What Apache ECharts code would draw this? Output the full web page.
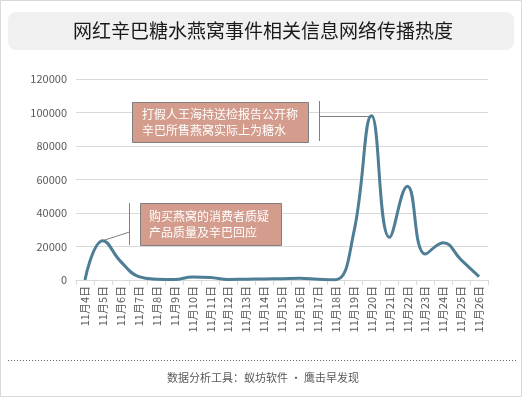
<!DOCTYPE html>
<html>
<head>
<meta charset="utf-8">
<script src="https://cdn.jsdelivr.net/npm/echarts@6/dist/echarts.min.js"></script>
<style>
html,body{margin:0;padding:0;background:#fff;}
#container{width:526px;height:398px;}
</style>
</head>
<body>
<div id="container"></div>
<script>
// 数据
var days = ['11月4日','11月5日','11月6日','11月7日','11月8日','11月9日','11月10日','11月11日','11月12日','11月13日','11月14日','11月15日','11月16日','11月17日','11月18日','11月19日','11月20日','11月21日','11月22日','11月23日','11月24日','11月25日','11月26日'];
var heat = [0, 23500, 11000, 2000, 500, 300, 1800, 1500, 300, 500, 600, 800, 1000, 500, 200, 28000, 98000, 25500, 56000, 15500, 22300, 12000, 2000];

var titleText = '网红辛巴糖水燕窝事件相关信息网络传播热度';
var footText = '数据分析工具：蚁坊软件 · 鹰击早发现';
var note1 = ['打假人王海持送检报告公开称', '辛巴所售燕窝实际上为糖水'];
var note2 = ['购买燕窝的消费者质疑', '产品质量及辛巴回应'];

var font = '"Noto Sans CJK SC", "Microsoft YaHei", sans-serif';
var myChart = echarts.init(document.getElementById('container'));

myChart.setOption({
    animation: false,
    backgroundColor: '#fff',
    grid: {left: 76, right: 38, top: 79, bottom: 118},
    xAxis: {
        type: 'category',
        data: days,
        boundaryGap: true,
        axisLine: {lineStyle: {color: '#d9d9d9'}},
        axisTick: {show: true, lineStyle: {color: '#d9d9d9'}, length: 5},
        axisLabel: {
            rotate: 90, interval: 0, color: '#595959', fontSize: 11,
            fontFamily: font, margin: 6
        }
    },
    yAxis: {
        type: 'value',
        min: 0, max: 120000, interval: 20000,
        axisLine: {show: false},
        axisTick: {show: false},
        splitLine: {lineStyle: {color: '#d9d9d9'}},
        axisLabel: {
            color: '#595959', fontSize: 11, fontFamily: font, margin: 9,
            formatter: function (v) { return String(v); }
        }
    },
    series: [{
        type: 'line',
        data: heat,
        smooth: 0.45,
        symbol: 'none',
        lineStyle: {color: '#4e7d96', width: 3}
    }]
});

// 注释框和引线
function drawNotes() {
    var p1 = myChart.convertToPixel({seriesIndex: 0}, [16, heat[16]]);
    var p2 = myChart.convertToPixel({seriesIndex: 0}, [1, heat[1]]);
    myChart.setOption({
        graphic: [
            // 外框
            {type: 'rect', shape: {x: 0.5, y: 0.5, width: 521, height: 396}, style: {fill: 'none', stroke: '#d9d9d9', lineWidth: 1}, silent: true},
            // 标题
            {type: 'rect', shape: {x: 8, y: 12, width: 506, height: 38, r: 8}, style: {fill: '#f0f0f0'}},
            {type: 'text', x: 263, y: 31, style: {text: titleText, fill: '#1a1a1a', font: '19px ' + font, align: 'center', verticalAlign: 'middle'}},
            // 注释1
            {type: 'rect', shape: {x: 132.5, y: 102.5, width: 176, height: 40}, style: {fill: '#d39c8d', stroke: '#7f7f7f', lineWidth: 1}},
            {type: 'text', x: 142, y: 122, style: {text: note1.join('\n'), fill: '#fff', font: '12px ' + font, lineHeight: 16, verticalAlign: 'middle'}},
            {type: 'line', shape: {x1: 319.5, y1: 101, x2: 319.5, y2: 141}, style: {stroke: '#7f7f7f', lineWidth: 1}},
            {type: 'line', shape: {x1: 319.5, y1: 116.5, x2: p1[0], y2: 116.5}, style: {stroke: '#7f7f7f', lineWidth: 1}},
            // 注释2
            {type: 'rect', shape: {x: 140.5, y: 203.5, width: 141, height: 42}, style: {fill: '#d39c8d', stroke: '#7f7f7f', lineWidth: 1}},
            {type: 'text', x: 149, y: 224, style: {text: note2.join('\n'), fill: '#fff', font: '12px ' + font, lineHeight: 16, verticalAlign: 'middle'}},
            {type: 'line', shape: {x1: 129.5, y1: 203, x2: 129.5, y2: 245}, style: {stroke: '#7f7f7f', lineWidth: 1}},
            {type: 'line', shape: {x1: 129.5, y1: 232, x2: p2[0], y2: p2[1]}, style: {stroke: '#7f7f7f', lineWidth: 1}},
            // 底部
            {type: 'line', shape: {x1: 8, y1: 360.5, x2: 516, y2: 360.5}, style: {stroke: '#666', lineWidth: 1, lineDash: [1, 2]}},
            {type: 'text', x: 263, y: 378, style: {text: footText, fill: '#595959', font: '11px ' + font, align: 'center', verticalAlign: 'middle'}}
        ]
    });
}
drawNotes();
</script>
</body>
</html>
